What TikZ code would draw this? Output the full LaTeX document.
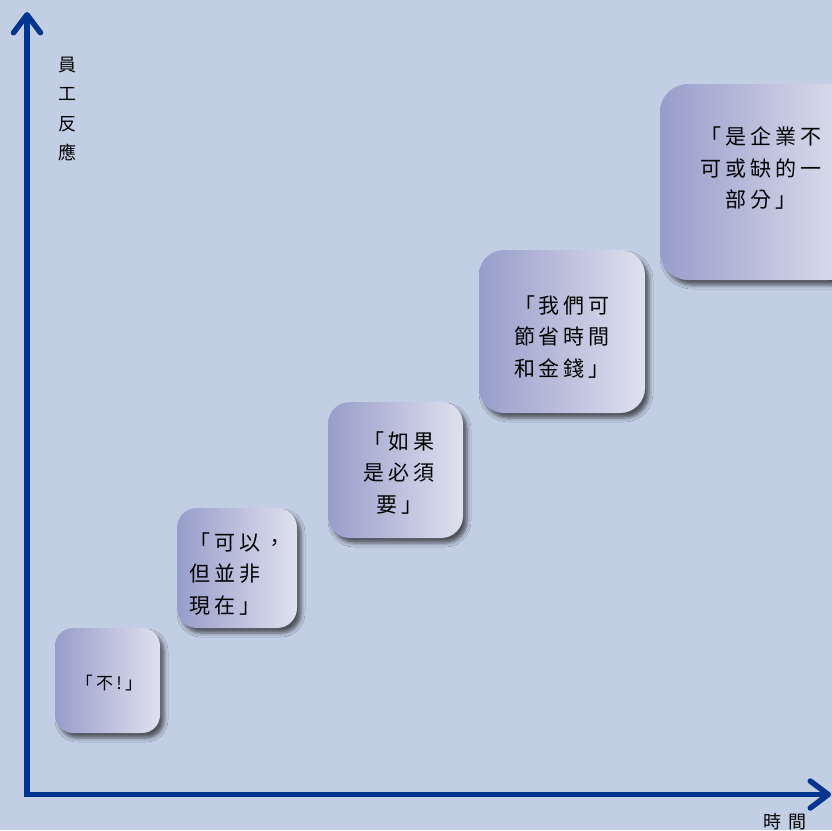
\documentclass[tikz,border=0pt]{standalone}
\usepackage{fontspec}
\newfontfamily\cjk[LetterSpace=19]{Noto Sans CJK TC}
\newfontfamily\cjkplain{Noto Sans CJK TC}
\usetikzlibrary{arrows.meta,shadows.blur}
\definecolor{bg}{HTML}{C2CEE4}
\definecolor{axisblue}{HTML}{00358F}
\definecolor{boxL}{HTML}{979DCA}
\definecolor{boxR}{HTML}{DFE1EE}
\begin{document}
\begin{tikzpicture}[x=1pt,y=-1pt,
  card/.style={rectangle, rounded corners=#1, left color=boxL, right color=boxR, draw=none, inner sep=0pt,
    blur shadow={shadow xshift=4pt, shadow yshift=-5pt, shadow blur radius=4pt, shadow opacity=60}},
  quote/.style={font=\cjk\fontsize{21}{31.5}\selectfont, align=center, inner sep=0pt, text=black},
  axlabel/.style={font=\cjkplain\fontsize{18}{29.5}\selectfont, align=center, inner sep=0pt, text=black},
  axisline/.style={draw=axisblue, line width=5.5pt, line join=miter,
    {Straight Barb[length=18pt, width=27pt, line cap=round, line join=round]}-{Straight Barb[length=18pt, width=27pt, line cap=round, line join=round]}},
]
\useasboundingbox (0,0) rectangle (832,830);
\clip (0,0) rectangle (832,830);
\fill[bg] (0,0) rectangle (832,830);

% axes
\coordinate (ytip) at (27,12);
\coordinate (origin) at (27,794.5);
\coordinate (xtip) at (831,794.5);
\draw[axisline] (ytip) -- (origin) -- (xtip);

\node[axlabel] (ylab) at (67,109) {員\\工\\反\\應};
\node[axlabel] (xlab) at (785,822) {時\hspace{7pt}間};

% cards
\node[card=18pt, minimum width=105pt, minimum height=105pt] (b1) at (107.5,680.5) {};
\node[card=20pt, minimum width=120pt, minimum height=120pt] (b2) at (237,568) {};
\node[card=22pt, minimum width=135pt, minimum height=136pt] (b3) at (395.5,470) {};
\node[card=25pt, minimum width=166pt, minimum height=163pt] (b4) at (562,331.5) {};
\node[card=28pt, minimum width=196pt, minimum height=196pt] (b5) at (758,182) {};

% texts
\node[inner sep=0pt, font=\cjk\fontsize{17}{20}\selectfont] (t1) at (109,683) {「不!」};
\node[quote, align=left, anchor=west] (t2) at (189,574) {「可以，\\但並非\\現在」};
\node[quote] (t3) at (399,473) {「如果\\是必須\\要」};
\node[quote] (t4) at (562,337) {「我們可\\節省時間\\和金錢」};
\node[quote] (t5) at (761,168) {「是企業不\\可或缺的一\\部分」};
\end{tikzpicture}
\end{document}
